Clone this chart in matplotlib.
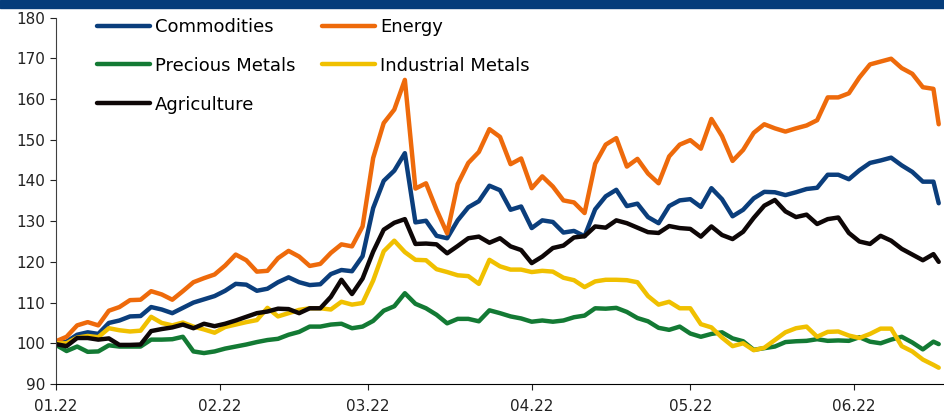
import matplotlib
matplotlib.use("Agg")
import matplotlib.pyplot as plt
import matplotlib.dates as mdates
import pandas as pd

# dates every 2 days from 1 Jan 2022, last point 17 Jun 2022
dates = pd.date_range("2022-01-01", "2022-06-16", freq="2D").append(pd.DatetimeIndex(["2022-06-17"]))

commodities = [100.0, 100.4, 102.1, 102.7, 102.3, 105.0, 105.6, 106.6, 106.7, 108.9,
               108.3, 107.4, 108.7, 110.0, 110.8, 111.6, 112.9, 114.6, 114.4, 112.9,
               113.4, 115.0, 116.2, 115.0, 114.3, 114.5, 117.0, 118.0, 117.7, 121.4,
               133.2, 139.9, 142.4, 146.7, 129.7, 130.1, 126.4, 125.8, 130.2, 133.4,
               134.9, 138.7, 137.6, 132.8, 133.6, 128.3, 130.2, 129.8, 127.2, 127.6,
               126.3, 132.9, 136.1, 137.7, 133.7, 134.3, 131.0, 129.5, 133.7, 135.1,
               135.4, 133.5, 138.1, 135.4, 131.2, 132.8, 135.6, 137.2, 137.1, 136.4,
               137.1, 137.9, 138.2, 141.4, 141.4, 140.3, 142.5, 144.3, 144.9, 145.6,
               143.7, 142.1, 139.7, 139.7, 134.4]
energy = [100.5, 101.6, 104.4, 105.2, 104.4, 108.0, 108.9, 110.6, 110.7, 112.8,
          112.0, 110.7, 112.8, 115.0, 116.0, 116.9, 119.1, 121.8, 120.4, 117.6,
          117.8, 120.9, 122.7, 121.3, 119.0, 119.5, 122.2, 124.3, 123.8, 128.7,
          145.5, 154.1, 157.4, 164.7, 138.0, 139.3, 132.8, 127.0, 139.1, 144.3,
          147.0, 152.6, 150.7, 144.0, 145.4, 138.1, 141.0, 138.5, 135.1, 134.6,
          132.0, 144.1, 148.8, 150.4, 143.4, 145.3, 141.7, 139.3, 145.9, 148.8,
          149.9, 147.8, 155.1, 150.9, 144.8, 147.5, 151.7, 153.8, 152.8, 152.0,
          152.8, 153.5, 154.8, 160.4, 160.4, 161.4, 165.3, 168.5, 169.2, 169.9,
          167.6, 166.2, 162.9, 162.5, 153.8]
precious = [99.6, 98.1, 99.2, 97.9, 98.0, 99.5, 99.2, 99.2, 99.2, 100.9,
            100.9, 101.0, 101.6, 98.0, 97.6, 98.0, 98.7, 99.2, 99.7, 100.3,
            100.8, 101.1, 102.1, 102.8, 104.1, 104.1, 104.6, 104.8, 103.7, 104.1,
            105.5, 108.0, 109.1, 112.3, 109.7, 108.6, 107.0, 104.9, 106.0, 106.0,
            105.4, 108.1, 107.4, 106.6, 106.1, 105.3, 105.6, 105.3, 105.6, 106.4,
            106.8, 108.6, 108.5, 108.7, 107.7, 106.2, 105.4, 103.8, 103.3, 104.1,
            102.4, 101.6, 102.3, 102.7, 101.2, 100.5, 98.4, 98.8, 99.2, 100.3,
            100.5, 100.6, 101.0, 100.6, 100.7, 100.6, 101.5, 100.4, 100.0, 100.9,
            101.6, 100.2, 98.5, 100.4, 99.8]
industrial = [100.0, 100.0, 101.4, 101.8, 101.5, 103.7, 103.2, 102.9, 103.1, 106.5,
              105.0, 104.4, 105.1, 104.1, 103.4, 102.6, 104.0, 104.6, 105.2, 105.7,
              108.7, 106.6, 107.4, 108.2, 108.6, 108.6, 108.3, 110.2, 109.5, 109.9,
              115.4, 122.6, 125.2, 122.4, 120.5, 120.4, 118.2, 117.5, 116.7, 116.5,
              114.6, 120.5, 118.9, 118.1, 118.1, 117.5, 117.8, 117.6, 116.1, 115.5,
              113.8, 115.2, 115.6, 115.6, 115.5, 115.0, 111.6, 109.5, 110.2, 108.6,
              108.6, 104.7, 103.9, 101.4, 99.3, 100.0, 98.3, 98.9, 100.8, 102.7,
              103.7, 104.1, 101.6, 102.8, 102.9, 101.9, 101.3, 102.3, 103.6, 103.6,
              99.3, 98.0, 96.0, 94.7, 94.0]
agriculture = [99.8, 99.3, 101.3, 101.3, 100.9, 101.2, 99.6, 99.6, 99.7, 103.0,
               103.5, 103.9, 104.6, 103.7, 104.8, 104.2, 104.8, 105.6, 106.5, 107.4,
               107.8, 108.5, 108.4, 107.4, 108.6, 108.6, 111.4, 115.6, 112.1, 115.9,
               122.5, 127.9, 129.6, 130.5, 124.4, 124.5, 124.3, 122.1, 123.9, 125.8,
               126.2, 124.7, 125.8, 123.8, 122.9, 119.7, 121.3, 123.4, 124.0, 126.0,
               126.3, 128.7, 128.4, 130.2, 129.5, 128.4, 127.3, 127.1, 128.8, 128.3,
               128.1, 126.2, 128.7, 126.6, 125.6, 127.4, 130.8, 133.8, 135.2, 132.4,
               131.0, 131.6, 129.3, 130.5, 130.9, 127.1, 125.0, 124.4, 126.4, 125.2,
               123.2, 121.8, 120.4, 121.9, 120.0]

series = [
    ("Commodities", commodities, "#0b3e7c"),
    ("Energy", energy, "#ee6a0b"),
    ("Precious Metals", precious, "#137a34"),
    ("Industrial Metals", industrial, "#f0c000"),
    ("Agriculture", agriculture, "#0e0707"),
]

plt.rcParams['font.family'] = ['DejaVu Sans']

fig = plt.figure(figsize=(9.44, 4.19), dpi=100)
# dark band on top
fig.patches.append(plt.Rectangle((0, 1 - 8 / 419), 1, 8 / 419, transform=fig.transFigure,
                                 color="#053c7a", zorder=0))

ax = fig.add_axes([56 / 944, 1 - 384 / 419, 1 - 56 / 944, (384 - 17.6) / 419])

lines = {}
for name, vals, col in series:
    ln, = ax.plot(dates, vals, color=col, lw=3.2, label=name,
                  solid_capstyle="round", solid_joinstyle="round")
    lines[name] = ln

ax.set_ylim(90, 180)
ax.set_yticks(range(90, 181, 10))
ax.set_xlim(pd.Timestamp("2022-01-01"), pd.Timestamp("2022-06-18"))
ax.xaxis.set_major_locator(mdates.MonthLocator())
ax.xaxis.set_major_formatter(mdates.DateFormatter("%m.%y"))

for s in ["top", "right"]:
    ax.spines[s].set_visible(False)
ax.spines["left"].set_color("#404040")
ax.spines["bottom"].set_color("#000000")
ax.tick_params(axis="both", direction="out", length=4, width=0.8, labelsize=11,
               colors="#222222")
ax.tick_params(axis="x", pad=7)

# legend, 2 columns filled row by row
order = ["Commodities", "Precious Metals", "Agriculture", "Energy", "Industrial Metals"]
ax.legend([lines[n] for n in order], order, ncol=2, frameon=False, fontsize=13,
          loc="upper left", bbox_to_anchor=(97 / 944, 1 - 18 / 419),
          bbox_transform=fig.transFigure, borderpad=0, borderaxespad=0,
          handlelength=2.95, handletextpad=0.28, labelspacing=1.15, columnspacing=1.45)

fig.savefig("out.png", dpi=100)
